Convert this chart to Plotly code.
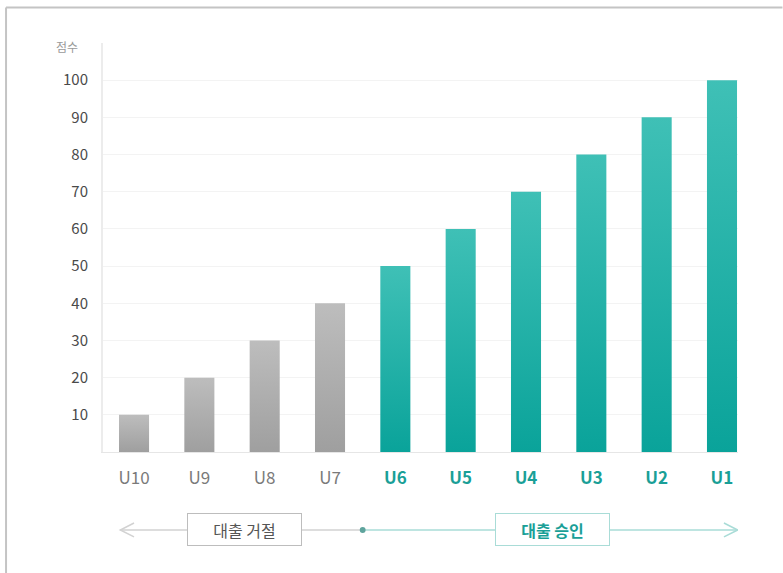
import plotly.graph_objects as go

# 데이터
categories = ['U10', 'U9', 'U8', 'U7', 'U6', 'U5', 'U4', 'U3', 'U2', 'U1']
scores = [10, 20, 30, 40, 50, 60, 70, 80, 90, 100]
approved = [False, False, False, False, True, True, True, True, True, True]
y_ticks = [10, 20, 30, 40, 50, 60, 70, 80, 90, 100]
group_labels = ['대출 거절', '대출 승인']

# 막대 그라데이션 (아래 -> 위)
GRAY_SCALE = [[0, '#9f9f9f'], [1, '#bdbdbd']]
TEAL_SCALE = [[0, '#0aa39a'], [1, '#3fc0b6']]
FONT = 'Noto Sans CJK KR'
BAR_W = 0.46

x_idx = list(range(len(categories)))
tick_text = [
    ('<b><span style="color:#1a9f97">%s</span></b>' % c) if a
    else ('<span style="color:#7a7a7a">%s</span>' % c)
    for c, a in zip(categories, approved)
]

fig = go.Figure()
for i, v, a in zip(x_idx, scores, approved):
    fig.add_trace(go.Scatter(
        x=[i - BAR_W / 2, i - BAR_W / 2, i + BAR_W / 2, i + BAR_W / 2, i - BAR_W / 2],
        y=[0, v, v, 0, 0],
        mode='lines',
        line=dict(width=0),
        fill='toself',
        fillgradient=dict(type='vertical', colorscale=TEAL_SCALE if a else GRAY_SCALE),
        hoverinfo='skip',
        name=categories[i],
    ))

# 아래 구간 표시 (선/화살표/박스)
ly = -0.1907
split_x = 3.5
shapes = [
    # 외곽 프레임 (좌/상)
    dict(type='line', xref='paper', yref='paper', x0=-0.1527, x1=1.07, y0=1.0867, y1=1.0867,
         line=dict(color='#c4c4c4', width=2)),
    dict(type='line', xref='paper', yref='paper', x0=-0.1527, x1=-0.1527, y0=-0.3, y1=1.0867,
         line=dict(color='#c4c4c4', width=2)),
    # 거절 구간 선
    dict(type='line', xref='x', yref='paper', x0=-0.21, x1=split_x, y0=ly, y1=ly,
         line=dict(color='#d2d2d2', width=1.5)),
    # 승인 구간 선
    dict(type='line', xref='x', yref='paper', x0=split_x, x1=9.24, y0=ly, y1=ly,
         line=dict(color='#a9dcd7', width=1.5)),
    # 화살촉
    dict(type='path', xref='x', yref='paper',
         path='M 0.0,%f L -0.21,%f L 0.0,%f' % (ly + 0.017, ly, ly - 0.017),
         line=dict(color='#d2d2d2', width=1.5)),
    dict(type='path', xref='x', yref='paper',
         path='M 9.03,%f L 9.24,%f L 9.03,%f' % (ly + 0.017, ly, ly - 0.017),
         line=dict(color='#a9dcd7', width=1.5)),
    # 중간 점
    dict(type='circle', xref='x', yref='paper', x0=split_x - 0.045, x1=split_x + 0.045,
         y0=ly - 0.0075, y1=ly + 0.0075, fillcolor='#5fa49d', line=dict(width=0)),
    # 잘린 영역 가리기 (U1 라벨 오른쪽)
    dict(type='rect', xref='paper', yref='paper', x0=1.0, x1=1.08, y0=-0.14, y1=-0.03,
         fillcolor='white', line=dict(width=0), layer='above'),
]

annotations = [
    dict(x=1.69, y=ly, xref='x', yref='paper', text=group_labels[0], showarrow=False,
         xanchor='center', yanchor='middle',
         font=dict(family=FONT, size=16, color='#555555'), bgcolor='white',
         bordercolor='#bdbdbd', borderwidth=1, borderpad=4, width=105, height=23),
    dict(x=6.41, y=ly, xref='x', yref='paper', text='<b>' + group_labels[1] + '</b>', showarrow=False,
         xanchor='center', yanchor='middle',
         font=dict(family=FONT, size=16, color='#1a9f97'), bgcolor='white',
         bordercolor='#a9dcd7', borderwidth=1, borderpad=4, width=105, height=23),
    # y축 제목
    dict(x=-0.037, y=0.992, xref='paper', yref='paper', text='점수', showarrow=False,
         xanchor='right', yanchor='middle', font=dict(family=FONT, size=12, color='#9a9a9a')),
]

fig.update_layout(
    width=783,
    height=573,
    margin=dict(l=103, r=45, t=43, b=121),
    plot_bgcolor='white',
    paper_bgcolor='white',
    showlegend=False,
    font=dict(family=FONT),
    shapes=shapes,
    annotations=annotations,
    xaxis=dict(
        range=[-0.475, 9.245],
        tickmode='array',
        tickvals=x_idx,
        ticktext=tick_text,
        tickfont=dict(family=FONT, size=17),
        ticks='',
        ticklabelstandoff=11,
        showgrid=False,
        showline=True,
        linecolor='#e6e6e6',
        linewidth=1,
        zeroline=False,
        fixedrange=True,
    ),
    yaxis=dict(
        range=[0, 110],
        tickmode='array',
        tickvals=y_ticks,
        tickfont=dict(family=FONT, size=15, color='#4a4a4a'),
        ticks='',
        ticklabelstandoff=10,
        showgrid=True,
        gridcolor='#f3f3f3',
        gridwidth=1,
        showline=True,
        linecolor='#ececec',
        linewidth=2,
        zeroline=False,
        fixedrange=True,
    ),
)

# 페이지 기본 여백 제거
fig.write_html("out.html", config={'displayModeBar': False},
               post_script="document.body.style.margin='0';")
